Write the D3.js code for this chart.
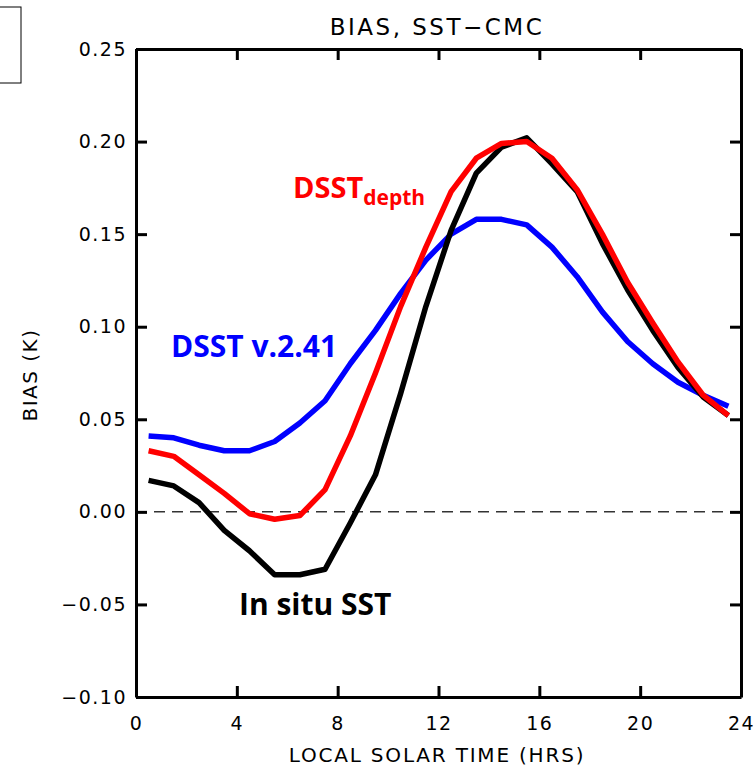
<!DOCTYPE html>
<html lang="en">
<head>
<meta charset="utf-8">
<script src="https://d3js.org/d3.v7.min.js"></script>
<style>
  body { margin: 0; background: #fff; }
  .idl { font-family: "DejaVu Sans", sans-serif; fill: #000; }
  .lbl { font-family: "Open Sans", sans-serif; font-weight: bold; }
</style>
</head>
<body>
<script>
// local solar time (hours), one point per hour at the half hour
const hours = [0.5, 1.5, 2.5, 3.5, 4.5, 5.5, 6.5, 7.5, 8.5, 9.5, 10.5, 11.5,
               12.5, 13.5, 14.5, 15.5, 16.5, 17.5, 18.5, 19.5, 20.5, 21.5, 22.5, 23.5];

// bias values (K)
const inSitu = [0.017, 0.014, 0.005, -0.010, -0.021, -0.034, -0.034, -0.031, -0.006, 0.020, 0.064, 0.111,
                0.152, 0.183, 0.197, 0.202, 0.188, 0.173, 0.145, 0.120, 0.098, 0.078, 0.062, 0.052];
const dsstDepth = [0.033, 0.030, 0.020, 0.010, -0.001, -0.004, -0.002, 0.012, 0.041, 0.075, 0.111, 0.143,
                   0.173, 0.191, 0.199, 0.200, 0.191, 0.174, 0.150, 0.124, 0.102, 0.081, 0.063, 0.052];
const dsst241 = [0.041, 0.040, 0.036, 0.033, 0.033, 0.038, 0.048, 0.060, 0.080, 0.098, 0.118, 0.136,
                 0.150, 0.158, 0.158, 0.155, 0.143, 0.127, 0.108, 0.092, 0.080, 0.070, 0.063, 0.057];

const xTicks = [0, 4, 8, 12, 16, 20, 24];
const yTicks = [-0.10, -0.05, 0.00, 0.05, 0.10, 0.15, 0.20, 0.25];

const width = 755, height = 768;
const margin = {top: 49, right: 14, bottom: 71, left: 136};
const plotW = width - margin.left - margin.right;
const plotH = height - margin.top - margin.bottom;

const svg = d3.select("body").append("svg")
    .attr("width", width)
    .attr("height", height);

// small cropped box in the top left corner
svg.append("rect")
    .attr("x", -1).attr("y", 7)
    .attr("width", 22).attr("height", 76)
    .attr("fill", "none").attr("stroke", "#000").attr("stroke-width", 1);

const g = svg.append("g")
    .attr("transform", "translate(" + margin.left + "," + margin.top + ")");

const x = d3.scaleLinear().domain([0, 24]).range([0, plotW]);
const y = d3.scaleLinear().domain([-0.10, 0.25]).range([plotH, 0]);

// dashed zero line
g.append("line")
    .attr("x1", 0).attr("x2", plotW)
    .attr("y1", y(0)).attr("y2", y(0))
    .attr("stroke", "#333").attr("stroke-width", 1.5)
    .attr("stroke-dasharray", "11,7");

// curves
const line = d3.line()
    .x((d, i) => x(hours[i]))
    .y(d => y(d));

const series = [
  {values: dsst241, color: "#0000ff"},
  {values: inSitu, color: "#000000"},
  {values: dsstDepth, color: "#ff0000"}
];

series.forEach(s => {
  g.append("path")
    .datum(s.values)
    .attr("fill", "none")
    .attr("stroke", s.color)
    .attr("stroke-width", 5.5)
    .attr("stroke-linejoin", "round")
    .attr("d", line);
});

// axes, ticks pointing inward
const fmtY = v => (v < 0 ? "\u2212" : "") + Math.abs(v).toFixed(2);

const axisStyle = sel => {
  sel.select(".domain").attr("stroke", "#000").attr("stroke-width", 3);
  sel.selectAll(".tick line").attr("stroke", "#000").attr("stroke-width", 3);
  sel.selectAll(".tick text")
    .attr("class", "idl")
    .style("font-size", "19px")
    .style("letter-spacing", "1.5px");
};

g.append("g")
    .attr("transform", "translate(0," + plotH + ")")
    .call(d3.axisBottom(x).tickValues(xTicks).tickSizeInner(-11).tickSizeOuter(0)
          .tickPadding(20).tickFormat(d3.format("d")))
    .call(axisStyle);

g.append("g")
    .call(d3.axisTop(x).tickValues(xTicks).tickSizeInner(-11).tickSizeOuter(0).tickFormat(""))
    .call(axisStyle);

g.append("g")
    .call(d3.axisLeft(y).tickValues(yTicks).tickSizeInner(-11).tickSizeOuter(0)
          .tickPadding(9).tickFormat(fmtY))
    .call(axisStyle);

g.append("g")
    .attr("transform", "translate(" + plotW + ",0)")
    .call(d3.axisRight(y).tickValues(yTicks).tickSizeInner(-11).tickSizeOuter(0).tickFormat(""))
    .call(axisStyle);

g.selectAll(".domain").attr("fill", "none");

// title and axis titles
svg.append("text")
    .attr("class", "idl")
    .attr("x", 437).attr("y", 35)
    .attr("text-anchor", "middle")
    .style("font-size", "23px")
    .style("letter-spacing", "2.5px")
    .text("BIAS, SST\u2212CMC");

svg.append("text")
    .attr("class", "idl")
    .attr("x", 437).attr("y", 762)
    .attr("text-anchor", "middle")
    .style("font-size", "20px")
    .style("letter-spacing", "1.8px")
    .text("LOCAL SOLAR TIME (HRS)");

svg.append("text")
    .attr("class", "idl")
    .attr("transform", "translate(37,375) rotate(-90)")
    .attr("text-anchor", "middle")
    .style("font-size", "20px")
    .style("letter-spacing", "1.5px")
    .text("BIAS (K)");

// series labels
const depthLbl = svg.append("text")
    .attr("class", "lbl")
    .attr("x", 293).attr("y", 198)
    .attr("fill", "#ff0000")
    .style("font-size", "29px");
depthLbl.append("tspan").text("DSST");
depthLbl.append("tspan").attr("dy", 7).style("font-size", "21px").text("depth");

svg.append("text")
    .attr("class", "lbl")
    .attr("x", 171).attr("y", 357)
    .attr("fill", "#0000ff")
    .style("font-size", "30px")
    .text("DSST v.2.41");

svg.append("text")
    .attr("class", "lbl")
    .attr("x", 239).attr("y", 615)
    .attr("fill", "#000")
    .style("font-size", "30px")
    .text("In situ SST");
</script>
</body>
</html>
